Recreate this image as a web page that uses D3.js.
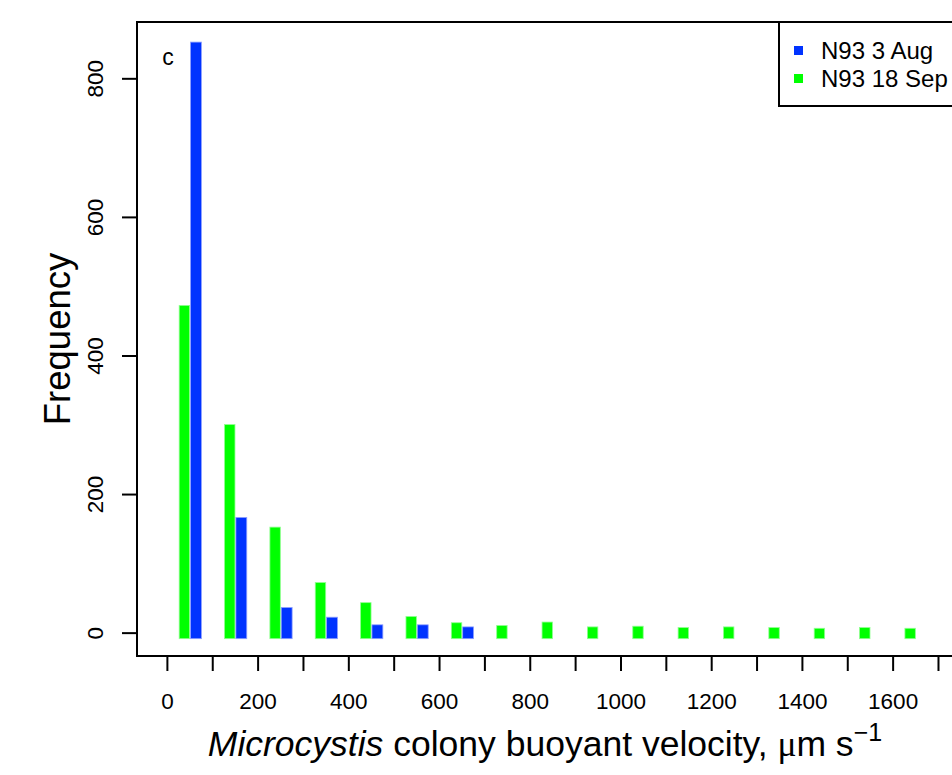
<!DOCTYPE html>
<html>
<head>
<meta charset="utf-8">
<script src="https://cdn.jsdelivr.net/npm/d3@7"></script>
<style>
  body { margin: 0; background: #fff; }
  svg { display: block; font-family: "Liberation Sans", Arial, sans-serif; }
</style>
</head>
<body>
<div id="chart"></div>
<script>
// bin starts (um/s), bins are 100 wide
const binStarts = [0, 100, 200, 300, 400, 500, 600, 700, 800, 900, 1000, 1100, 1200, 1300, 1400, 1500, 1600];
// N93 18 Sep (green)
const sepCounts = [473, 301, 153, 73, 44, 24, 15, 11, 16, 9, 10, 8, 9, 8, 7, 8, 7];
// N93 3 Aug (blue)
const augCounts = [853, 167, 37, 23, 12, 12, 9];
const xTicks = d3.range(0, 1701, 100);
const xLabels = [0, 200, 400, 600, 800, 1000, 1200, 1400, 1600];
const yTicks = [0, 200, 400, 600, 800];
const legendNames = ["N93 3 Aug", "N93 18 Sep"];
const colors = ["#0033ff", "#00ff00"];
const borders = ["#8fa0ff", "#90ff90"];

const width = 952, height = 775;
const plot = { left: 137, top: 22, bottom: 656, right: 953 };

const svg = d3.select("#chart").append("svg")
    .attr("width", width)
    .attr("height", height);

const x = d3.scaleLinear().domain([-67, 1732]).range([plot.left, plot.right]);
const y = d3.scaleLinear().domain([-33, 882]).range([plot.bottom, plot.top]);
const base = -8; // bars in the original start a little below zero

// green bars sit in the left part of each bin, blue in the right
const g = svg.append("g");
g.selectAll(".sep")
    .data(sepCounts)
    .enter()
    .append("rect")
        .attr("class", "sep")
        .attr("x", (d, i) => x(binStarts[i] + 26))
        .attr("width", x(23) - x(0))
        .attr("y", d => y(d))
        .attr("height", d => y(base) - y(d))
        .attr("fill", colors[1])
        .attr("stroke", borders[1])
        .attr("stroke-width", 0.8);

g.selectAll(".aug")
    .data(augCounts)
    .enter()
    .append("rect")
        .attr("class", "aug")
        .attr("x", (d, i) => x(binStarts[i] + 51))
        .attr("width", x(24) - x(0))
        .attr("y", d => y(d))
        .attr("height", d => y(base) - y(d))
        .attr("fill", colors[0])
        .attr("stroke", borders[0])
        .attr("stroke-width", 0.8);

// box
svg.append("rect")
    .attr("x", plot.left).attr("y", plot.top)
    .attr("width", plot.right - plot.left).attr("height", plot.bottom - plot.top)
    .attr("fill", "none").attr("stroke", "#000").attr("stroke-width", 2);

// y axis
const yAxis = svg.append("g");
yAxis.selectAll("line")
    .data(yTicks)
    .enter()
    .append("line")
        .attr("x1", plot.left - 15).attr("x2", plot.left)
        .attr("y1", d => y(d)).attr("y2", d => y(d))
        .attr("stroke", "#000").attr("stroke-width", 2);
yAxis.selectAll("text")
    .data(yTicks)
    .enter()
    .append("text")
        .attr("transform", d => `translate(103,${y(d)}) rotate(-90)`)
        .attr("text-anchor", "middle")
        .attr("font-size", 22.5)
        .text(d => d);

// x axis
const xAxis = svg.append("g");
xAxis.selectAll("line")
    .data(xTicks)
    .enter()
    .append("line")
        .attr("x1", d => x(d)).attr("x2", d => x(d))
        .attr("y1", plot.bottom).attr("y2", plot.bottom + 15)
        .attr("stroke", "#000").attr("stroke-width", 2);
xAxis.selectAll("text")
    .data(xLabels)
    .enter()
    .append("text")
        .attr("x", d => x(d))
        .attr("y", 709)
        .attr("text-anchor", "middle")
        .attr("font-size", 22.5)
        .text(d => d);

// titles
svg.append("text")
    .attr("transform", `translate(70,${(plot.top + plot.bottom) / 2}) rotate(-90)`)
    .attr("text-anchor", "middle")
    .attr("font-size", 36.5)
    .text("Frequency");

const xt = svg.append("text")
    .attr("x", 545)
    .attr("y", 756)
    .attr("text-anchor", "middle")
    .attr("font-size", 35.5);
xt.append("tspan").attr("font-style", "italic").text("Microcystis");
xt.append("tspan").text(" colony buoyant velocity, ");
xt.append("tspan").attr("font-family", "Liberation Serif, serif").text("\u03bc");
xt.append("tspan").text("m s");
xt.append("tspan").attr("dy", -15).attr("font-size", 25).text("\u22121");

svg.append("text")
    .attr("x", 168).attr("y", 65)
    .attr("text-anchor", "middle")
    .attr("font-size", 23)
    .text("c");

// legend
const lg = svg.append("g");
lg.append("rect")
    .attr("x", 779).attr("y", plot.top)
    .attr("width", 200).attr("height", 84)
    .attr("fill", "#fff").attr("stroke", "#000").attr("stroke-width", 2);
lg.selectAll(".key")
    .data(legendNames)
    .enter()
    .append("rect")
        .attr("class", "key")
        .attr("x", 794)
        .attr("y", (d, i) => 46 + i * 28)
        .attr("width", 9).attr("height", 9)
        .attr("fill", (d, i) => colors[i]);
lg.selectAll("text")
    .data(legendNames)
    .enter()
    .append("text")
        .attr("x", 821)
        .attr("y", (d, i) => 59 + i * 28)
        .attr("font-size", 24)
        .text(d => d);
</script>
</body>
</html>
